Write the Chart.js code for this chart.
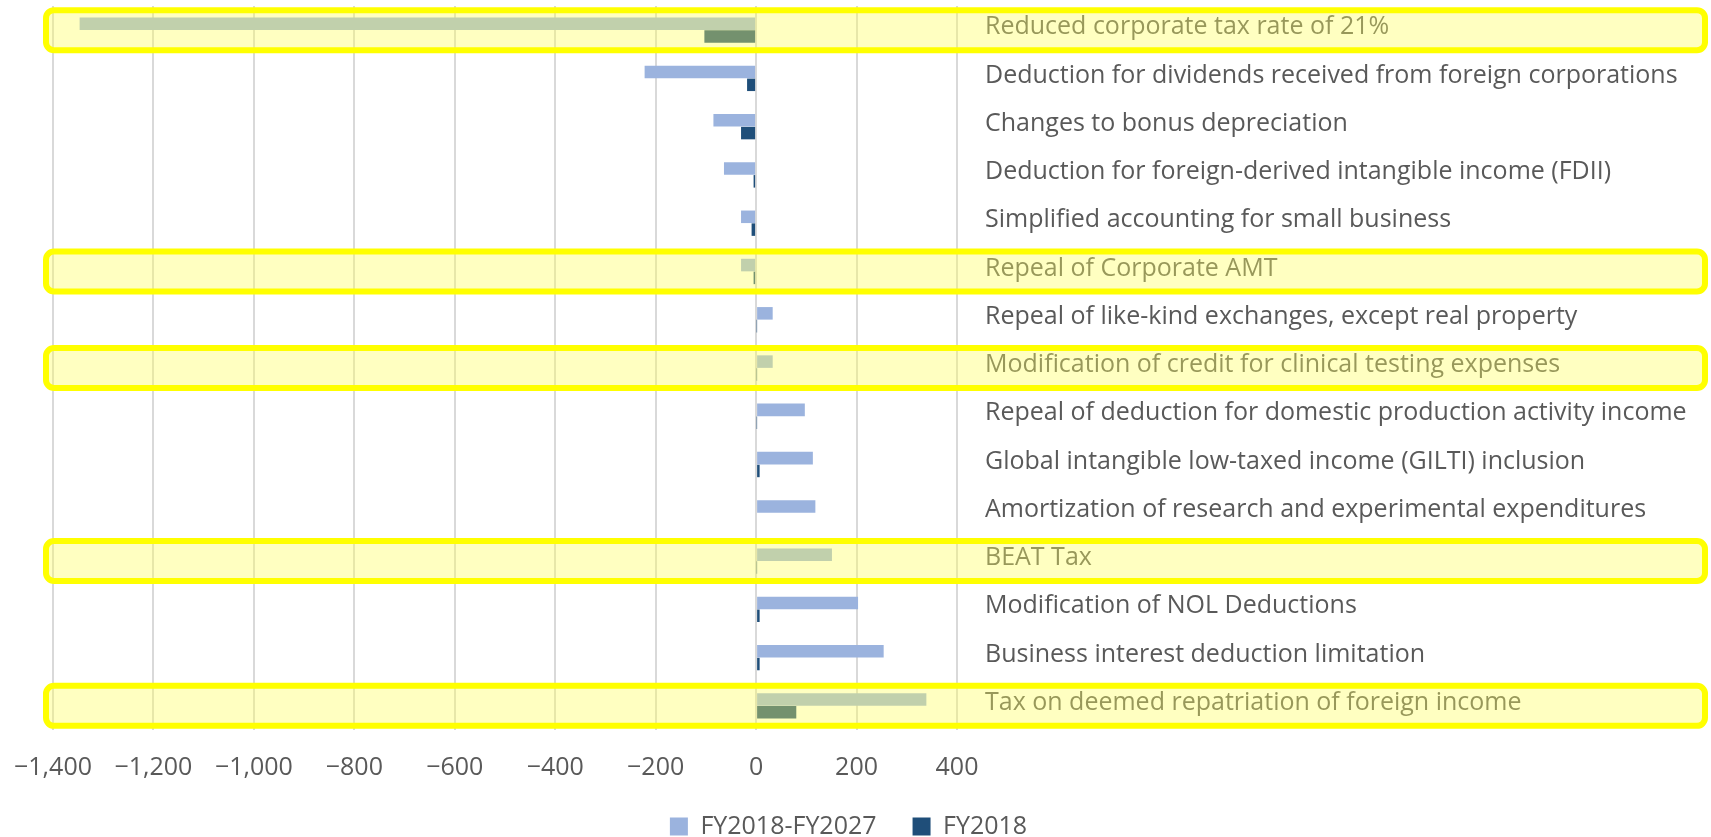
<!DOCTYPE html>
<html>
<head>
<meta charset="utf-8">
<script src="https://cdn.jsdelivr.net/npm/chart.js@4.4.1/dist/chart.umd.min.js"></script>
<style>
  html, body { margin: 0; padding: 0; background: #ffffff; }
  #wrap { width: 1711px; height: 837px; }
</style>
</head>
<body>
<div id="wrap"><canvas id="c" width="1711" height="837"></canvas></div>
<script>
// ---- data (billions of dollars) ----
const categories = [
  "Reduced corporate tax rate of 21%",
  "Deduction for dividends received from foreign corporations",
  "Changes to bonus depreciation",
  "Deduction for foreign-derived intangible income (FDII)",
  "Simplified accounting for small business",
  "Repeal of Corporate AMT",
  "Repeal of like-kind exchanges, except real property",
  "Modification of credit for clinical testing expenses",
  "Repeal of deduction for domestic production activity income",
  "Global intangible low-taxed income (GILTI) inclusion",
  "Amortization of research and experimental expenditures",
  "BEAT Tax",
  "Modification of NOL Deductions",
  "Business interest deduction limitation",
  "Tax on deemed repatriation of foreign income"
];
const seriesNames = ["FY2018-FY2027", "FY2018"];
const tenYearValues = [-1347, -222, -85, -64, -30, -30, 33, 33, 97, 113, 118, 151, 203, 254, 339];
const fy2018Values = [-103, -18, -30, -5, -9, -5, 1, 1, 1, 7, 0, 1, 7, 7, 80];
const highlighted = [
  "Reduced corporate tax rate of 21%",
  "Repeal of Corporate AMT",
  "Modification of credit for clinical testing expenses",
  "BEAT Tax",
  "Tax on deemed repatriation of foreign income"
];
const xTickMin = -1400, xTickMax = 400, xTickStep = 200;

// ---- styling ----
const FONT = "'Open Sans', 'Noto Sans', sans-serif";
const TEXT = '#595959';
const LEGEND_PAD = 36;

const highlightPlugin = {
  id: 'highlightRows',
  afterDraw(chart) {
    const ctx = chart.ctx;
    const y = chart.scales.y;
    ctx.save();
    highlighted.forEach(name => {
      const i = categories.indexOf(name);
      if (i < 0) return;
      const yc = y.getPixelForValue(i);
      const x0 = 46, x1 = 1705;
      ctx.beginPath();
      ctx.roundRect(x0, yc - 20, x1 - x0, 40, 8);
      ctx.fillStyle = 'rgba(255,255,92,0.38)';
      ctx.fill();
      ctx.lineWidth = 6;
      ctx.strokeStyle = '#FFFF00';
      ctx.stroke();
    });
    ctx.restore();
  }
};

function make() {
  Chart.defaults.font.family = FONT;
  Chart.defaults.font.size = 25;
  Chart.defaults.color = TEXT;
  new Chart(document.getElementById('c'), {
    type: 'bar',
    data: {
      labels: categories,
      datasets: [
        { label: seriesNames[0], data: tenYearValues, backgroundColor: '#9BB3DE',
          barPercentage: 0.98, categoryPercentage: 0.53 },
        { label: seriesNames[1], data: fy2018Values, backgroundColor: '#1F4E79',
          barPercentage: 0.98, categoryPercentage: 0.53 }
      ]
    },
    options: {
      indexAxis: 'y',
      responsive: false,
      animation: false,
      events: [],
      layout: { padding: { top: 6, right: 14, left: 0, bottom: -12 } },
      plugins: {
        tooltip: { enabled: false },
        legend: {
          position: 'bottom',
          labels: { boxWidth: 18, boxHeight: 18, padding: LEGEND_PAD, color: TEXT,
                    font: { size: 25, family: FONT } }
        }
      },
      scales: {
        x: {
          type: 'linear', min: xTickMin, max: xTickMax,
          grid: { color: '#D9D9D9', lineWidth: 2, drawTicks: false },
          border: { display: false },
          ticks: {
            stepSize: xTickStep, padding: 23, maxRotation: 0, autoSkip: false,
            color: TEXT, font: { size: 25, family: FONT },
            callback: v => (v < 0 ? '\u2212' : '') + Math.abs(v).toLocaleString('en-US')
          },
          afterFit(s) { s.height = 84 - LEGEND_PAD; s.paddingLeft = 53; }
        },
        y: {
          type: 'category', position: 'right', offset: true,
          grid: { display: false, drawTicks: false },
          border: { display: false },
          ticks: { padding: 28, autoSkip: false, labelOffset: -3, color: TEXT,
                   font: { size: 25, family: FONT } },
          afterFit(s) { s.width = 740; s.paddingTop = 0; s.paddingBottom = 0; }
        }
      }
    },
    plugins: [highlightPlugin]
  });
}
if (document.fonts && document.fonts.load) {
  document.fonts.load("25px 'Open Sans'").then(make, make);
} else { make(); }
</script>
</body>
</html>
